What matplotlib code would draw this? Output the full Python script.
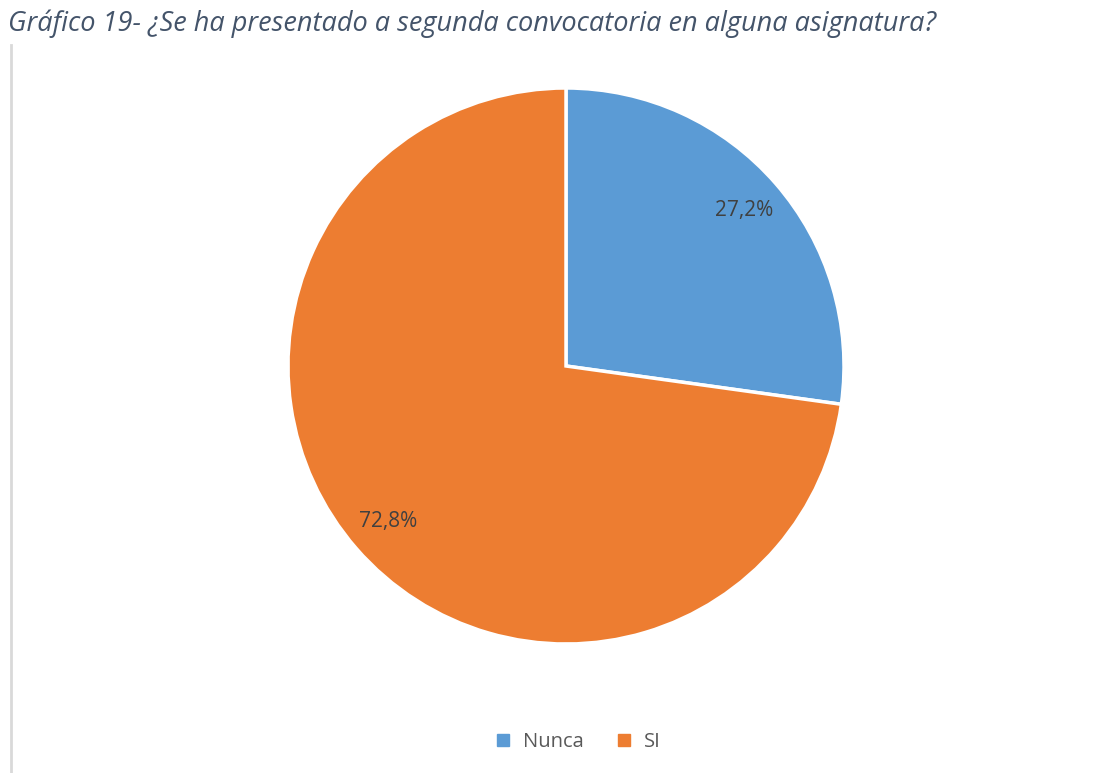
import matplotlib.pyplot as plt
from matplotlib.lines import Line2D

# datos del grafico
categorias = ['Nunca', 'SI']
porcentajes = [27.2, 72.8]
colores = ['#5B9BD5', '#ED7D31']
titulo = 'Gráfico 19- ¿Se ha presentado a segunda convocatoria en alguna asignatura?'

plt.rcParams['font.family'] = ['Open Sans', 'DejaVu Sans']

W, H = 1109, 773
fig = plt.figure(figsize=(W / 100, H / 100), dpi=100)

# pie centrado en (566, 366) px, radio 278 px
cx, cy, r = 566, 366, 278
ax = fig.add_axes([(cx - r) / W, (H - cy - r) / H, 2 * r / W, 2 * r / H])

wedges, texts, autotexts = ax.pie(
    porcentajes, colors=colores, startangle=90, counterclock=False,
    autopct=lambda p: ('%.1f%%' % p).replace('.', ','), pctdistance=0.85,
    wedgeprops=dict(edgecolor='white', linewidth=2.5),
    textprops=dict(color='#404040', fontsize=15))
ax.set_xlim(-1, 1)
ax.set_ylim(-1, 1)
ax.set_aspect('equal')
ax.axis('off')

fig.text(8 / W, 1 - 31 / H, titulo, fontsize=19.5, style='italic',
         color='#44546A', va='baseline', ha='left')

# linea gris del borde izquierdo
fig.add_artist(Line2D([11 / W, 11 / W], [0, 1 - 45 / H], color='#D9D9D9',
                      linewidth=2, transform=fig.transFigure))

handles = [Line2D([], [], marker='s', linestyle='', color=c, markersize=8)
           for c in colores]
fig.legend(handles, categorias, loc='center', bbox_to_anchor=(572 / W, 1 - 742 / H),
           ncol=2, frameon=False, fontsize=14.5, handletextpad=0.0,
           columnspacing=1.0, labelcolor='#595959')

fig.savefig('out.png', dpi=100)
